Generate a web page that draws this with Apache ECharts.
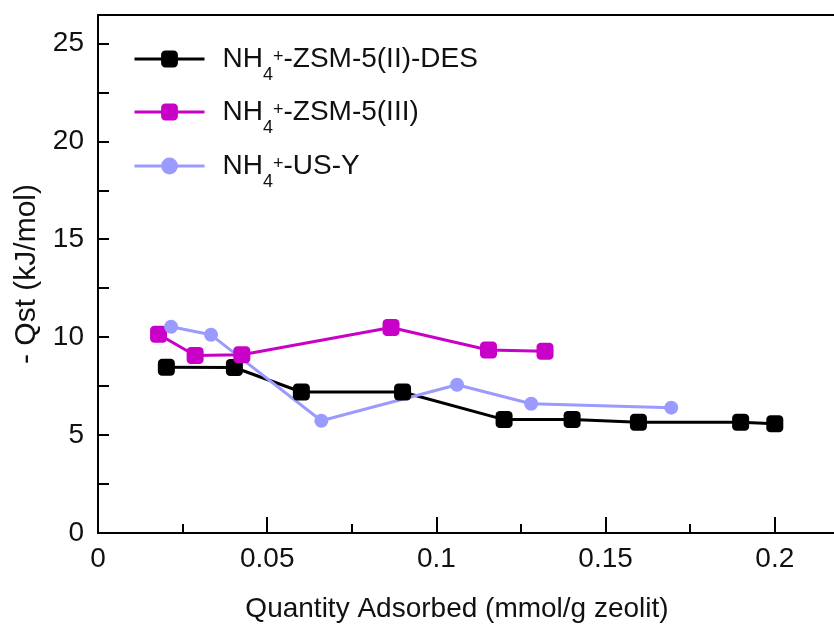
<!DOCTYPE html>
<html>
<head>
<meta charset="utf-8">
<script src="https://cdn.jsdelivr.net/npm/echarts@6/dist/echarts.min.js"></script>
<style>html,body{margin:0;padding:0;background:#fff;overflow:hidden;width:834px;height:628px}#c{width:947px;height:628px}</style>
</head>
<body>
<div id="c"></div>
<script>
const desX = [0.0202, 0.0403, 0.0601, 0.0900, 0.1200, 0.1401, 0.1597, 0.1899, 0.2000];
const desY = [8.46, 8.45, 7.20, 7.20, 5.79, 5.79, 5.66, 5.66, 5.58];
const z3X = [0.0179, 0.0287, 0.0425, 0.0866, 0.1154, 0.1321];
const z3Y = [10.15, 9.06, 9.10, 10.49, 9.34, 9.28];
const usyX = [0.0216, 0.0334, 0.0660, 0.1061, 0.1280, 0.1694];
const usyY = [10.53, 10.12, 5.73, 7.57, 6.60, 6.40];
const seriesNames = ['NH4+-ZSM-5(II)-DES', 'NH4+-ZSM-5(III)', 'NH4+-US-Y'];
const seriesTails = ['-ZSM-5(II)-DES', '-ZSM-5(III)', '-US-Y'];
const xTicks = [0, 0.05, 0.1, 0.15, 0.2];
const yTicks = [0, 5, 10, 15, 20, 25];

const FONT = '"Liberation Sans", Arial, Helvetica, sans-serif';
const colors = ['#000000', '#c800c8', '#9b9bff'];
const pair = (xs, ys) => xs.map((x, i) => [x, ys[i]]);

const rich = {
  m: { fontSize: 28, fontFamily: FONT, color: '#111', verticalAlign: 'middle' },
  sub: { fontSize: 18, fontFamily: FONT, color: '#111', verticalAlign: 'middle', padding: [33, 0, 0, 0] },
  sup: { fontSize: 18, fontFamily: FONT, color: '#111', verticalAlign: 'middle', padding: [0, 0, 4, 0] }
};
const legendTops = [57, 110, 164];
const legends = seriesNames.map((n, i) => ({
  data: [n],
  left: 128,
  top: legendTops[i] - 17,
  itemWidth: 70,
  itemHeight: 21,
  orient: 'vertical',
  selectedMode: false,
  lineStyle: { width: 3 },
  textStyle: { rich: rich, padding: [0, 0, 0, 13] },
  formatter: () => '{m|NH}{sub|4}{sup|+}{m|' + seriesTails[i] + '}'
}));

const mk = (name, data, color, symbol, size) => ({
  name: name, type: 'line', data: data,
  symbol: symbol, symbolSize: size,
  lineStyle: { color: color, width: 3 },
  itemStyle: { color: color },
  xAxisIndex: 0, yAxisIndex: 0, z: 3, animation: false
});

const chart = echarts.init(document.getElementById('c'));
chart.setOption({
  animation: false,
  legend: legends,
  grid: { left: 98, right: 0, top: 15, bottom: 91, containLabel: false },
  xAxis: [{
    type: 'value', min: 0, max: 0.25, interval: 0.05,
    axisLine: { show: true, lineStyle: { color: '#000', width: 2 } },
    axisTick: { show: true, inside: true, length: 16, lineStyle: { color: '#000', width: 2 } },
    minorTick: { show: true, splitNumber: 2, length: 9, lineStyle: { color: '#000', width: 2 } },
    splitLine: { show: false },
    axisLabel: {
      margin: 12, fontSize: 28, fontFamily: FONT, color: '#111',
      formatter: v => { const t = xTicks.find(k => Math.abs(k - v) < 1e-9); return t === undefined ? '' : String(t); }
    },
    name: 'Quantity Adsorbed (mmol/g zeolit)', nameLocation: 'middle', nameGap: 62,
    nameTextStyle: { fontSize: 28, fontFamily: FONT, color: '#111', padding: [0, 128, 0, 0] }
  }, {
    type: 'value', position: 'top', min: 0, max: 0.25,
    axisLine: { show: true, onZero: false, lineStyle: { color: '#000', width: 2 } },
    axisTick: { show: false }, axisLabel: { show: false }, splitLine: { show: false }
  }],
  yAxis: {
    type: 'value', min: 0, max: 26.45, interval: 2.5,
    axisLine: { show: true, lineStyle: { color: '#000', width: 2 } },
    axisTick: { show: true, inside: true, length: 11, lineStyle: { color: '#000', width: 2 } },
    splitLine: { show: false },
    axisLabel: {
      margin: 14, fontSize: 28, fontFamily: FONT, color: '#111',
      formatter: v => { const t = yTicks.find(k => Math.abs(k - v) < 1e-9); return t === undefined ? '' : String(t); }
    },
    name: '- Qst (kJ/mol)', nameLocation: 'middle', nameGap: 56,
    nameTextStyle: { fontSize: 30, fontFamily: FONT, color: '#111' }
  },
  series: [
    mk(seriesNames[0], pair(desX, desY), colors[0], 'roundRect', 17),
    mk(seriesNames[1], pair(z3X, z3Y), colors[1], 'roundRect', 17),
    mk(seriesNames[2], pair(usyX, usyY), colors[2], 'circle', 14)
  ]
});
</script>
</body>
</html>
